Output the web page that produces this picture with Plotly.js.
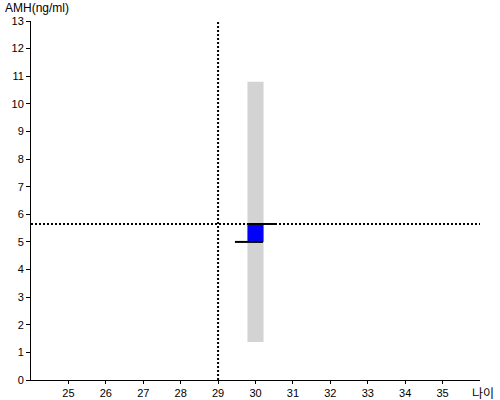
<!DOCTYPE html>
<html>
<head>
<meta charset="utf-8">
<script src="https://cdn.plot.ly/plotly-3.0.1.min.js"></script>
<style>html,body{margin:0;padding:0;background:#fff;}#chart{width:500px;height:400px;}</style>
</head>
<body>
<div id="chart"></div>
<script>
// Data
const age = [30];
const rangeLow = [1.38];
const rangeHigh = [10.8];
const boxLow = [5.0];
const boxHigh = [5.65];
const upperTickX = [29.77, 30.55];
const upperTickY = [5.65, 5.65];
const lowerTickX = [29.45, 30.2];
const lowerTickY = [5.0, 5.0];
const refAge = 29;
const refAMH = 5.65;
const xRange = [24, 36];
const yRange = [0, 13];
const xTicks = [25, 26, 27, 28, 29, 30, 31, 32, 33, 34, 35];
const yTicks = [0, 1, 2, 3, 4, 5, 6, 7, 8, 9, 10, 11, 12, 13];

const barW = 0.43;
const traces = [
  {type: 'bar', x: age, y: rangeHigh.map((h, i) => h - rangeLow[i]), base: rangeLow,
   width: barW, marker: {color: '#d3d3d3', line: {width: 0}}, hoverinfo: 'skip'},
  {type: 'bar', x: age, y: boxHigh.map((h, i) => h - boxLow[i]), base: boxLow,
   width: barW, marker: {color: '#0000ff', line: {width: 0}}, hoverinfo: 'skip'},
  {type: 'scatter', mode: 'lines', x: upperTickX, y: upperTickY, line: {color: '#000', width: 2}},
  {type: 'scatter', mode: 'lines', x: lowerTickX, y: lowerTickY, line: {color: '#000', width: 2}},
  {type: 'scatter', mode: 'lines', x: [refAge, refAge], y: yRange, line: {color: '#000', width: 2, dash: '2px,2px'}},
  {type: 'scatter', mode: 'lines', x: xRange, y: [refAMH, refAMH], line: {color: '#000', width: 2, dash: '2px,2px'}}
];

const layout = {
  width: 500, height: 400,
  margin: {l: 31, r: 20, t: 21, b: 20, pad: 0},
  barmode: 'overlay',
  showlegend: false,
  paper_bgcolor: '#fff', plot_bgcolor: '#fff',
  font: {family: 'Liberation Sans, Arial, sans-serif', size: 11, color: '#000'},
  xaxis: {range: xRange, tickvals: xTicks, ticks: 'outside', ticklen: 3, tickcolor: '#000',
          showline: true, linecolor: '#000', linewidth: 1, showgrid: false, zeroline: false,
          tickfont: {size: 11}, fixedrange: true},
  yaxis: {range: yRange, tickvals: yTicks, ticks: 'outside', ticklen: 4, tickcolor: '#000',
          showline: true, linecolor: '#000', linewidth: 1, showgrid: false, zeroline: false,
          tickfont: {size: 11}, fixedrange: true},
  annotations: [
    {text: 'AMH(ng/ml)', xref: 'paper', yref: 'paper', x: -28/449, y: (380-8)/359,
     xanchor: 'left', yanchor: 'middle', showarrow: false, font: {size: 12, color: '#000'}},
    {text: '나이', xref: 'paper', yref: 'paper', x: (496-31)/449, y: (380-392)/359,
     xanchor: 'right', yanchor: 'middle', showarrow: false,
     font: {family: 'Noto Sans CJK KR', size: 12, color: '#000'}}
  ]
};

Plotly.newPlot('chart', traces, layout, {displayModeBar: false, staticPlot: true});
</script>
</body>
</html>
